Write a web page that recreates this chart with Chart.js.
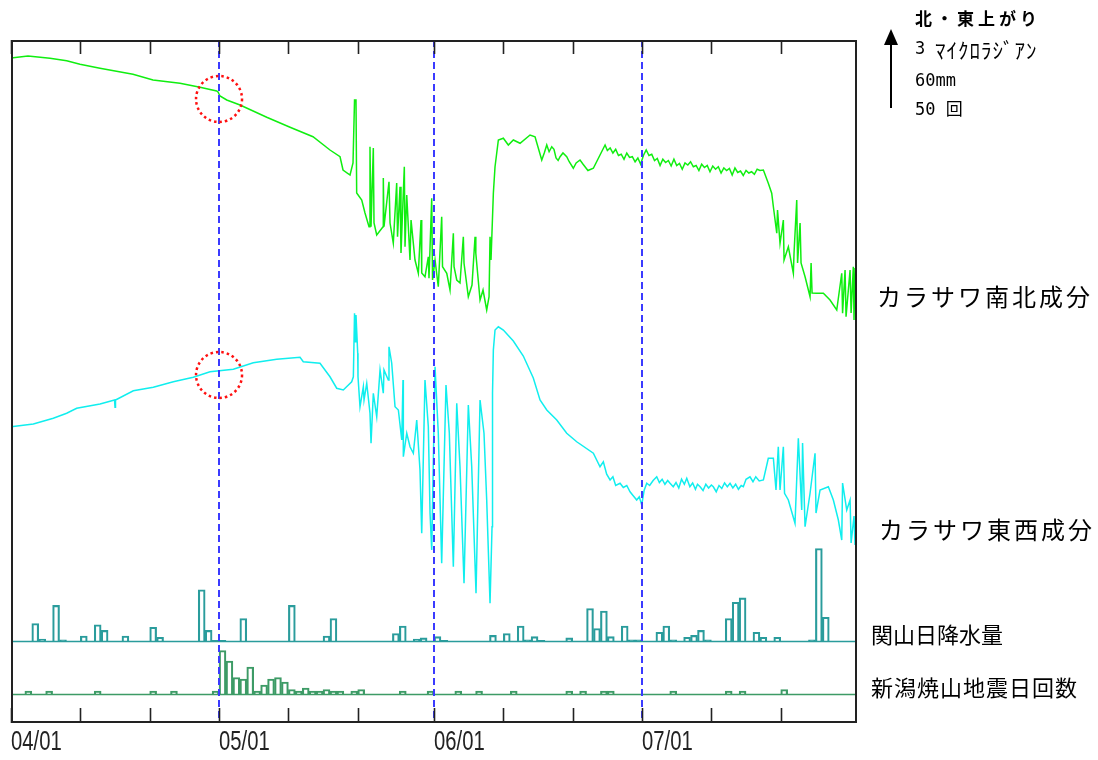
<!DOCTYPE html>
<html>
<head>
<meta charset="utf-8">
<script src="https://cdn.jsdelivr.net/npm/chart.js@4.4.1/dist/chart.umd.min.js"></script>
<style>
  body { margin: 0; background: #fff; }
  canvas { display: block; }
</style>
</head>
<body>
<canvas id="tiltChart" width="1098" height="760"></canvas>
<script>
// days counted from 04/01, tilt in microradians (offset only matters relatively)
const nsDay = [0,2.45,5.62,8.03,9.95,12.83,17.59,20.48,24.37,27.26,
  29.66,29.85,30.14,31.11,33.03,36.88,40.24,43.55,46.0,47.45,
  47.88,48.89,49.32,49.54,49.75,49.85,50.58,51.05,51.63,51.77,
  51.92,52.25,52.35,52.74,53.65,53.69,53.79,54.51,54.66,55.13,
  55.62,55.74,56.1,56.24,56.72,56.82,57.07,57.54,57.69,58.26,
  58.74,59.13,59.23,59.7,60.18,60.28,60.67,60.79,61.15,61.62,
  62.11,62.23,62.84,63.31,63.79,63.89,64.28,64.75,65.23,65.33,
  65.95,66.48,66.92,67.03,67.64,68.07,68.6,68.94,69.08,69.22,
  69.56,69.8,70.28,71.0,71.72,72.44,73.41,74.85,75.57,
  76.54,76.9,77.26,77.6,77.98,78.3,78.6,78.9,79.18,79.6,80.14,80.5,81.09,81.5,82.06,82.5,83.2,83.98,
  85.67,86.0,86.4,86.8,87.2,87.6,88.0,88.4,88.8,89.2,89.6,90.0,90.4,90.8,91.2,91.6,92.0,92.4,92.8,93.2,
  93.6,94.0,94.4,94.8,95.2,95.6,96.0,96.4,96.8,97.2,97.6,98.0,98.4,98.8,99.2,99.6,100.0,100.4,100.8,101.2,
  101.6,102.0,102.4,102.8,103.2,103.6,104.0,104.4,104.8,105.2,105.6,106.0,106.4,106.8,107.2,107.6,108.0,108.5,
  109.21,109.7,109.94,110.43,110.54,110.9,111.38,111.48,112.1,112.82,112.92,113.31,113.43,113.79,113.93,
  114.51,115.23,115.38,115.52,116.19,117.15,118.11,119.08,119.8,119.92,
  120.28,120.42,121.0,121.15,121.47,121.57,121.72,121.86,121.98];
const nsVal = [26.6,26.68,26.59,26.49,26.35,26.19,25.95,25.72,25.59,25.43,
  25.28,25.24,25.08,24.92,24.72,24.23,23.83,23.45,22.92,22.65,
  22.12,21.92,22.4,24.92,24.92,21.2,20.92,20.4,19.85,23.05,
  19.85,23.0,20.0,19.52,19.85,21.8,19.85,21.65,20.0,19.2,
  21.6,19.45,21.45,18.8,22.25,19.05,21.12,18.52,20.12,18.52,
  17.99,20.12,18.0,17.85,18.65,17.79,20.99,17.72,18.52,17.45,
  20.25,18.25,17.99,17.32,19.59,18.25,17.72,17.6,19.45,18.39,
  17.05,17.52,19.45,18.79,16.92,17.32,16.52,17.05,19.45,18.52,
  21.19,22.25,23.32,23.39,23.12,23.32,23.19,23.52,23.45,
  22.52,22.8,23.12,22.85,23.05,22.95,22.6,22.5,22.65,22.8,22.65,22.45,22.19,22.4,22.52,22.35,22.1,22.19,
  23.12,22.9,23.0,22.8,22.95,22.7,22.75,22.55,22.8,22.62,22.65,22.45,22.6,22.35,22.7,22.92,22.7,22.75,22.5,22.58,
  22.3,22.55,22.42,22.5,22.28,22.55,22.3,22.38,22.15,22.4,22.32,22.45,22.25,22.3,22.1,22.35,22.22,22.3,22.05,22.28,
  22.15,22.25,22.0,22.2,22.1,22.18,21.92,22.2,22.02,22.08,21.9,22.1,22.0,22.05,21.95,22.15,22.1,22.12,
  21.59,21.19,20.65,19.59,20.52,19.19,20.12,18.52,19.05,17.99,18.8,20.92,18.4,20.0,18.4,
  17.85,17.05,18.4,17.2,17.19,17.19,16.92,16.52,17.99,16.39,
  18.12,16.25,18.12,16.4,18.25,16.12,18.2,16.12,18.2];

const ewDay = [0,3.22,6.1,8.03,9.47,12.84,14.93,15.0,15.07,17.64,
  20.52,23.41,26.29,28.7,32.06,34.94,38.32,41.68,42.15,44.56,
  46.0,46.97,47.92,49.13,49.37,49.54,49.68,49.75,50.0,50.04,
  50.33,50.81,50.91,51.3,51.77,51.92,52.25,52.74,53.22,53.69,
  53.79,54.41,54.51,54.9,55.38,55.86,56.35,56.53,56.58,57.07,
  57.54,58.02,58.51,58.98,59.23,59.7,60.18,60.43,60.67,61.15,
  61.62,62.11,62.73,63.21,63.79,64.28,64.75,65.33,65.95,66.44,
  67.06,67.64,68.21,68.6,69.08,69.37,69.44,69.56,69.8,70.28,
  71.0,72.44,73.88,75.32,76.29,77.26,78.7,80.14,81.58,83.98,
  84.94,85.42,85.9,86.39,86.8,87.2,87.83,88.3,88.8,89.27,89.7,
  90.23,90.6,90.96,91.3,91.68,92.1,92.6,93.12,93.5,93.9,
  94.3,94.7,95.04,95.5,95.9,96.3,96.7,97.1,97.45,97.9,
  98.3,98.7,99.0,99.37,99.8,100.2,100.6,101.0,101.28,101.7,
  102.1,102.5,102.9,103.3,103.69,104.1,104.5,104.9,105.3,105.61,
  106.0,106.57,107.0,107.4,107.9,108.5,
  109.21,109.94,110.32,110.65,110.9,111.38,111.55,112.1,113.06,113.54,
  114.03,114.15,114.51,115.23,115.95,116.09,116.67,117.87,118.59,119.31,
  119.8,119.92,120.52,121.0,121.15,121.57,121.72,122];
const ewVal = [11.85,11.96,12.19,12.39,12.59,12.76,12.92,12.63,12.92,13.29,
  13.43,13.65,13.83,14.05,14.15,14.41,14.55,14.63,14.45,14.39,
  13.85,13.39,13.32,13.65,13.85,16.39,15.25,16.32,14.79,13.85,
  12.65,13.45,12.92,13.59,12.39,11.19,13.19,12.25,14.12,13.19,
  14.12,13.72,15.05,14.4,12.65,12.52,11.32,13.72,10.65,11.59,
  11.05,10.79,12.12,10.12,7.59,13.72,11.85,8.39,6.92,14.25,
  11.59,6.39,13.52,11.59,6.25,12.79,10.25,5.59,12.72,10.25,
  5.19,12.92,11.59,8.92,4.79,7.85,13.19,14.92,15.72,15.85,
  15.72,15.28,14.68,13.8,12.92,12.52,12.12,11.59,11.25,10.79,
  10.25,10.45,9.95,9.72,9.85,9.5,9.59,9.42,9.5,9.25,9.1,
  8.92,9.05,8.72,9.3,9.59,9.5,9.7,9.85,9.62,9.75,
  9.55,9.7,9.59,9.45,9.62,9.4,9.75,9.55,9.79,9.45,
  9.6,9.35,9.55,9.45,9.3,9.55,9.4,9.52,9.45,9.25,
  9.5,9.38,9.6,9.45,9.59,9.4,9.55,9.35,9.5,9.45,
  9.75,9.85,9.65,9.85,9.68,9.72,
  10.59,10.59,9.32,11.05,9.32,11.05,9.19,8.92,7.99,11.39,
  8.52,11.2,7.85,9.19,10.79,8.4,9.32,9.45,8.92,8.12,
  7.32,9.6,8.52,8.92,7.2,8.28,7.12,8.28];

// daily rainfall at Sekiyama (mm) and daily quake count at Niigata-Yakeyama
const rainDay = [3,4,6,7,10,12,13,16,20,21,27,28,29,30,33,40,45,46,55,56,
  58,59,61,62,69,71,73,74,75,76,80,83,84,85,86,88,89,90,93,94,
  95,97,98,99,100,103,104,105,107,108,110,115,116,117];
const rainMm = [14,1.5,28.5,1,4,13,8.5,4,11,3,41,8.5,0.5,0.5,18,28.5,4,18,6,12,
  1.5,2.5,3.5,0.5,4.5,6,12,1,3.5,0.5,2.5,26,10,24,3.5,12,1,1,7,12,
  1,3,4.5,8.5,1,18,31,34.5,7,3,3,1,74,19];
const quakeDay = [2,5,12,20,23,29,30,31,32,33,34,35,36,37,38,39,40,41,42,43,
  44,45,46,47,49,50,56,60,64,67,72,80,82,85,86,95,103,105,111];
const quakeCnt = [2,2,2,2,2,2,29,22,11,10,18,2,6,10,11,8,3,2,4,2,
  2,3,2,2,2,3,2,2,2,2,2,2,2,2,2,2,2,2,3];

const tickDays = [0,10,20,30,40,50,61,71,81,91,101,111];
const monthDays = [0,30,61,91];
const monthLabels = ['04/01','05/01','06/01','07/01'];
const markDay = 30, markNs = 24.96, markEw = 13.92;

const pts = (xs, ys, shift) => xs.map((d, i) => ({x: d + (shift || 0), y: ys[i]}));

function hline(ctx, a, y, color) {
  ctx.strokeStyle = color;
  ctx.beginPath();
  ctx.moveTo(a.left, y);
  ctx.lineTo(a.right, y);
  ctx.stroke();
}

const decorations = {
  id: 'decorations',
  beforeDatasetsDraw(chart) {
    const {ctx, chartArea: a, scales} = chart;
    ctx.save();
    ctx.lineWidth = 1.5;
    hline(ctx, a, Math.round(scales.yRain.getPixelForValue(0)) + 0.5, '#2a9c9c');
    hline(ctx, a, Math.round(scales.yQuake.getPixelForValue(0)) + 0.5, '#3d9b66');
    ctx.restore();
  },
  afterDatasetsDraw(chart) {
    const {ctx, chartArea: a, scales} = chart;
    const x = scales.x;
    ctx.save();
    // month lines
    ctx.setLineDash([7, 4]);
    ctx.strokeStyle = '#3b3bff';
    ctx.lineWidth = 2;
    monthDays.slice(1).forEach(d => {
      const px = Math.round(x.getPixelForValue(d));
      ctx.beginPath();
      ctx.moveTo(px, a.top);
      ctx.lineTo(px, a.bottom);
      ctx.stroke();
    });
    // red dotted circles
    ctx.setLineDash([2.5, 3]);
    ctx.strokeStyle = '#ff1010';
    ctx.lineWidth = 2.5;
    [markNs, markEw].forEach(v => {
      ctx.beginPath();
      ctx.arc(x.getPixelForValue(markDay), scales.yTilt.getPixelForValue(v), 23, 0, Math.PI * 2);
      ctx.stroke();
    });
    ctx.setLineDash([]);
    // frame + ticks
    ctx.strokeStyle = '#222';
    ctx.lineWidth = 2;
    ctx.strokeRect(a.left + 1, a.top + 1, a.right - a.left - 2, a.bottom - a.top - 2);
    ctx.lineWidth = 1.6;
    tickDays.forEach(d => {
      const px = Math.round(x.getPixelForValue(d)) + 0.5;
      ctx.beginPath();
      ctx.moveTo(px, a.bottom);
      ctx.lineTo(px, a.bottom - 15);
      ctx.moveTo(px, a.top);
      ctx.lineTo(px, a.top + 14);
      ctx.stroke();
    });
    ctx.restore();
  },
  afterDraw(chart) {
    const {ctx, scales} = chart;
    ctx.save();
    ctx.fillStyle = '#222';
    ctx.textBaseline = 'middle';
    // date labels
    monthDays.forEach((d, i) => {
      ctx.save();
      ctx.translate(scales.x.getPixelForValue(d), 743);
      ctx.scale(0.75, 1);
      ctx.font = '27px "Liberation Sans"';
      ctx.fillText(monthLabels[i], 0, 0);
      ctx.restore();
    });
    ctx.fillStyle = '#000';
    ctx.font = '24px "Noto Sans CJK JP"';
    ctx.letterSpacing = '3px';
    ctx.fillText('カラサワ南北成分', 877, 297);
    ctx.fillText('カラサワ東西成分', 879, 530);
    ctx.font = '22px "Noto Sans CJK JP"';
    ctx.letterSpacing = '0px';
    ctx.fillText('関山日降水量', 871, 635);
    ctx.letterSpacing = '1px';
    ctx.fillText('新潟焼山地震日回数', 871, 688);
    // scale key
    ctx.font = 'bold 17px "Noto Sans CJK JP"';
    ctx.letterSpacing = '4px';
    ctx.fillText('北・東上がり', 915, 19);
    ctx.font = '17px "DejaVu Sans Mono"';
    ctx.letterSpacing = '0px';
    ctx.fillText('3', 915, 50);
    ctx.font = '21px "Noto Sans CJK JP"';
    ctx.letterSpacing = '1px';
    ctx.fillText('ﾏｲｸﾛﾗｼﾞｱﾝ', 935, 50);
    ctx.font = '17px "DejaVu Sans Mono", "Noto Sans CJK JP"';
    ctx.letterSpacing = '0px';
    ctx.fillText('60mm', 915, 82);
    ctx.fillText('50 回', 915, 111);
    ctx.strokeStyle = '#000';
    ctx.lineWidth = 2;
    ctx.beginPath();
    ctx.moveTo(891, 108);
    ctx.lineTo(891, 42);
    ctx.stroke();
    ctx.beginPath();
    ctx.moveTo(891, 29);
    ctx.lineTo(884, 45);
    ctx.lineTo(898, 45);
    ctx.closePath();
    ctx.fill();
    ctx.restore();
  }
};

new Chart(document.getElementById('tiltChart'), {
  type: 'line',
  data: {
    datasets: [
      {
        label: 'カラサワ南北成分',
        data: pts(nsDay, nsVal),
        yAxisID: 'yTilt',
        borderColor: '#10ee10',
        borderWidth: 1.5
      },
      {
        label: 'カラサワ東西成分',
        data: pts(ewDay, ewVal),
        yAxisID: 'yTilt',
        borderColor: '#10eeee',
        borderWidth: 1.5
      },
      {
        type: 'bar',
        label: '関山日降水量',
        data: pts(rainDay, rainMm, 0.5),
        yAxisID: 'yRain',
        grouped: false,
        barPercentage: 1,
        categoryPercentage: 1,
        backgroundColor: 'rgba(0,0,0,0)',
        borderColor: '#2a9c9c',
        borderWidth: 1.5
      },
      {
        type: 'bar',
        label: '新潟焼山地震日回数',
        data: pts(quakeDay, quakeCnt, 0.5),
        yAxisID: 'yQuake',
        grouped: false,
        barPercentage: 1,
        categoryPercentage: 1,
        backgroundColor: 'rgba(0,0,0,0)',
        borderColor: '#3d9b66',
        borderWidth: 1.5
      }
    ]
  },
  options: {
    responsive: false,
    animation: false,
    events: [],
    layout: { padding: { left: 11, top: 40, right: 241, bottom: 37 } },
    elements: { point: { radius: 0 }, line: { tension: 0 } },
    plugins: { legend: { display: false }, tooltip: { enabled: false } },
    scales: {
      x: { type: 'linear', min: 0, max: 122, offset: false, display: false },
      yTilt: { type: 'linear', min: 0, max: 27.32, display: false },
      yRain: { type: 'linear', min: -65.6, max: 480.8, display: false },
      yQuake: { type: 'linear', min: -19.33, max: 436, display: false }
    }
  },
  plugins: [decorations]
});
</script>
</body>
</html>
